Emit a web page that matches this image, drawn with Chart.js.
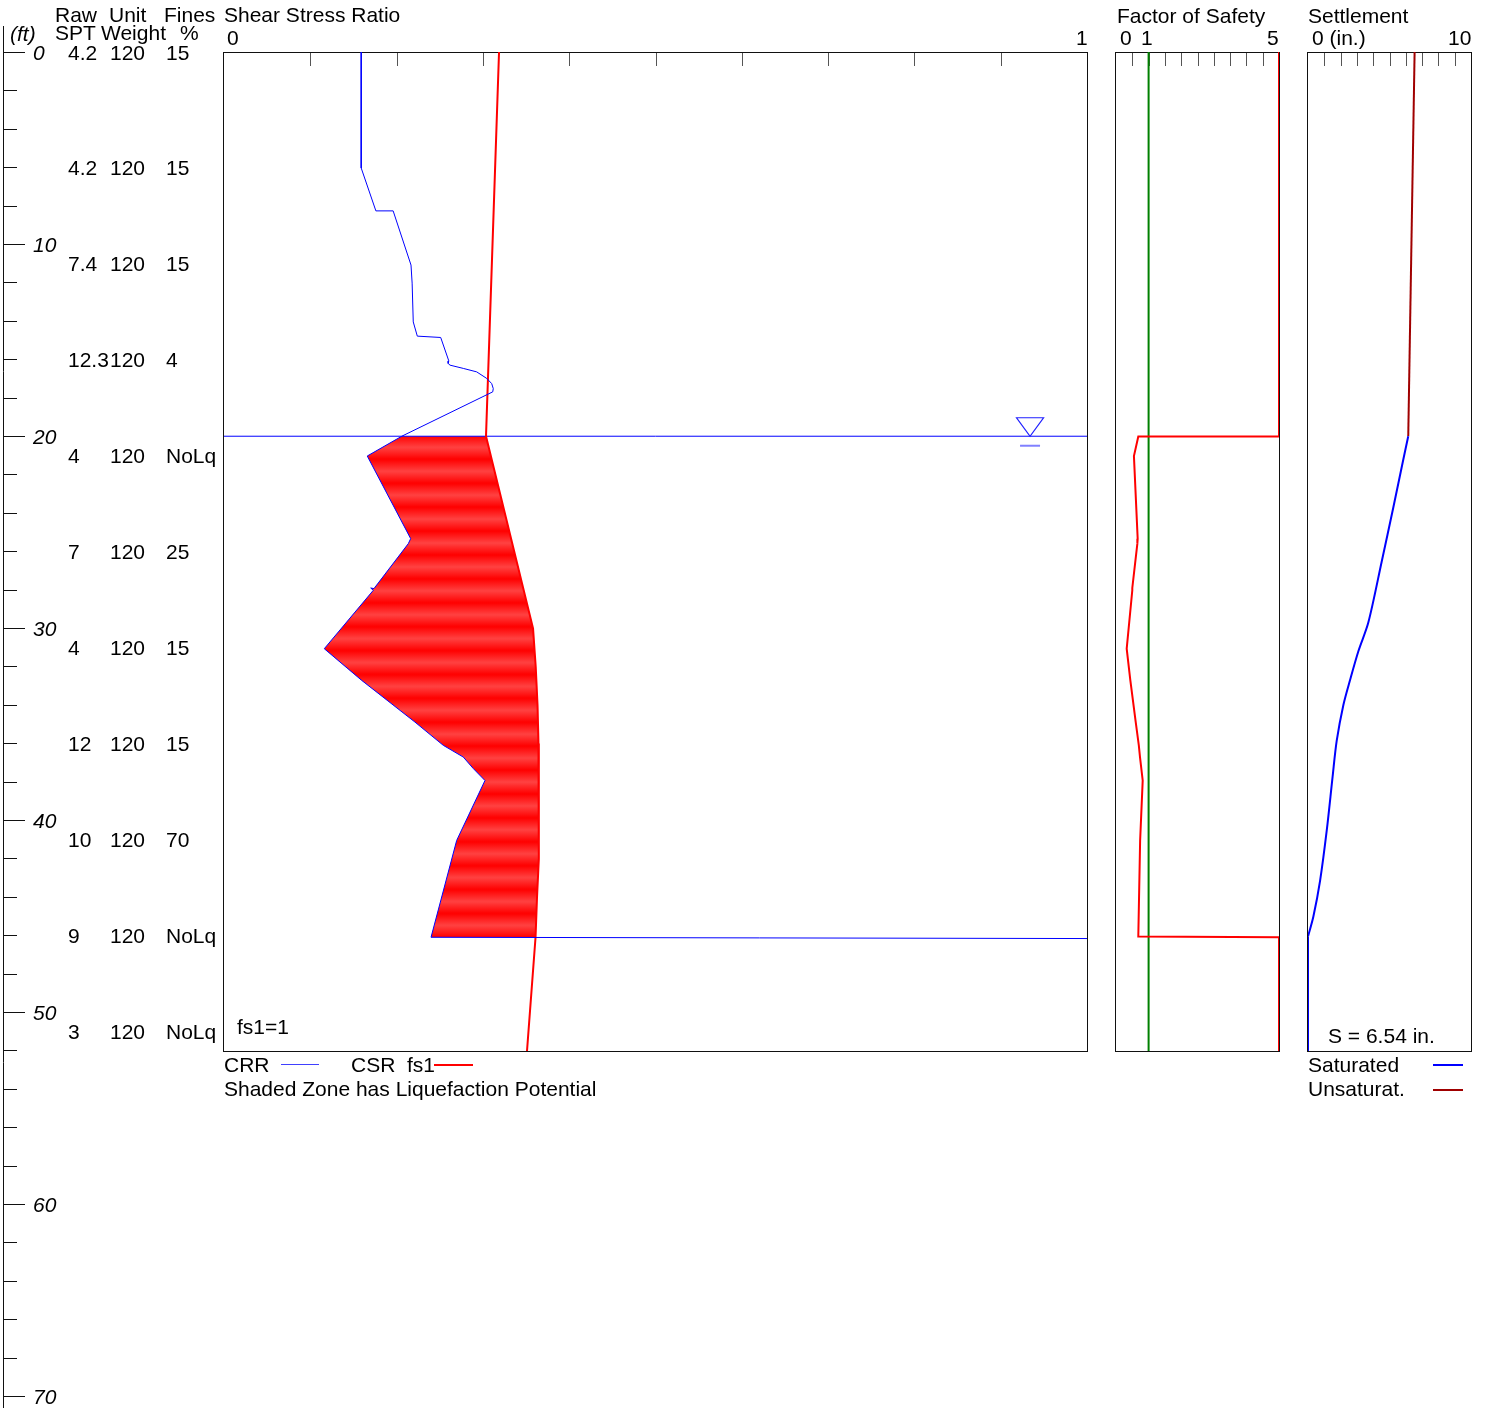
<!DOCTYPE html>
<html>
<head>
<meta charset="utf-8">
<title>Liquefaction Analysis</title>
<script src="https://cdn.jsdelivr.net/npm/chart.js@4.4.1/dist/chart.umd.min.js"></script>
<style>
  html, body { margin: 0; padding: 0; background: #fff; }
  body { width: 1488px; height: 1408px; position: relative; overflow: hidden;
         font-family: "Liberation Sans", Arial, sans-serif; font-size: 21px; color: #000; }
  canvas { position: absolute; }
  .t { position: absolute; white-space: pre; line-height: 21px; }
  .key { position: absolute; }
</style>
</head>
<body>
<canvas id="depth" width="1488" height="1408" style="left:0;top:0"></canvas>
<canvas id="main" width="884" height="1020" style="left:214px;top:42px"></canvas>
<canvas id="fs" width="184" height="1020" style="left:1106px;top:42px"></canvas>
<canvas id="settle" width="184" height="1020" style="left:1298px;top:42px"></canvas>
<script>
// ---- boring log (depth in ft) ----
const logDepths  = [0, 6, 11, 16, 21, 26, 31, 36, 41, 46, 51];
const rawSPT     = ['4.2', '4.2', '7.4', '12.3', '4', '7', '4', '12', '10', '9', '3'];
const unitWeight = ['120', '120', '120', '120', '120', '120', '120', '120', '120', '120', '120'];
const finesPct   = ['15', '15', '15', '4', 'NoLq', '25', '15', '15', '70', 'NoLq', 'NoLq'];

const depthAxisMax = 70;   // ft, full log
const profileMax = 52;     // ft, analysed profile
const depthTicks = [0, 2, 4, 6, 8, 10, 12, 14, 16, 18, 20, 22, 24, 26, 28, 30, 32, 34,
                    36, 38, 40, 42, 44, 46, 48, 50, 52, 54, 56, 58, 60, 62, 64, 66, 68, 70];
const ratioTicks  = [0, 0.1, 0.2, 0.3, 0.4, 0.5, 0.6, 0.7, 0.8, 0.9, 1];
const fsTicks     = [0, 0.5, 1, 1.5, 2, 2.5, 3, 3.5, 4, 4.5, 5];
const settleTicks = [0, 1, 2, 3, 4, 5, 6, 7, 8, 9, 10];

const waterTableDepth = 20;
const waterMarkRatio = 0.934;

// ---- cyclic resistance ratio (CRR) ----
const crrDepth = [0, 6.04, 8.27, 8.27, 11.09, 12.03, 14.05, 14.79, 14.86, 16.08, 16.21, 16.30,
                  16.47, 16.65, 16.99, 17.26, 17.52, 17.69, 20.0, 21.03, 25.33, 25.59, 27.93,
                  27.90, 28.02, 31.06, 32.71, 34.88, 36.09, 36.70, 37.30, 37.92, 41.04, 46.08,
                  46.5, 52];
const crrValue = [0.159, 0.159, 0.176, 0.196, 0.2167, 0.218, 0.2193, 0.224, 0.2511, 0.2605, 0.2597, 0.2619,
                  0.2773, 0.2928, 0.3044, 0.3102, 0.312, 0.3114, 0.206, 0.166, 0.2163, 0.2136, 0.1738,
                  0.170, 0.173, 0.1162, 0.1596, 0.2213, 0.2541, 0.2773, 0.2889, 0.3024, 0.2696, 0.2399,
                  5, 5];

// ---- cyclic stress ratio (CSR, fs1 = 1) ----
const csrDepth = [0, 20, 30, 32, 34, 36, 38, 40, 42, 44, 46.08, 52];
const csrValue = [0.3187, 0.3036, 0.3581, 0.3612, 0.3633, 0.3644, 0.365, 0.365, 0.3644, 0.3627, 0.361, 0.3511];

// liquefiable zone limits
const zoneTop = 20;
const zoneBottom = 46.08;

// ---- factor of safety ----
const fsDepth = [0, 20.02, 20.02, 21.03, 25.33, 25.59, 27.90, 28.02, 31.06, 32.71, 34.88, 36.09,
                 36.70, 37.92, 41.04, 46.04, 46.08, 52];
const fsValue = [5, 5, 0.684, 0.55, 0.665, 0.655, 0.50, 0.50, 0.328, 0.44, 0.605, 0.70,
                 0.736, 0.819, 0.74, 0.684, 5, 5];
const fsLimit = 1;

// ---- settlement (in.) ----
const unsatDepth  = [0, 20];
const unsatSettle = [6.54, 6.15];
const satDepth  = [20, 21.2, 23.72, 26.53, 29.7, 31.19, 32.69, 33.99, 35.86, 37.72, 40.52, 43.14, 45.0, 46.04];
const satSettle = [6.15, 5.85, 5.23, 4.52, 3.70, 3.09, 2.58, 2.17, 1.76, 1.51, 1.15, 0.74, 0.33, 0];
const belowDepth  = [46.04, 52];
const belowSettle = [0, 0];
const totalSettlement = '6.54';

// ------------------------------------------------------------------
const FONT = '"Liberation Sans", Arial, sans-serif';
const pts = (ds, vs) => ds.map((d, i) => ({x: vs[i], y: d}));
const fixedTicks = values => scale => { scale.ticks = values.map(v => ({value: v})); };

// outline of the plotting box with short inward ticks along the top edge
const framePlugin = {
  id: 'frame',
  beforeDatasetsDraw(chart) {
    const {ctx, chartArea: a, scales: {x}} = chart;
    ctx.save();
    ctx.strokeStyle = '#555';
    ctx.lineWidth = 1;
    x.ticks.forEach(t => {
      if (t.value <= x.min + 1e-9 || t.value >= x.max - 1e-9) return;
      const px = Math.round(x.getPixelForValue(t.value)) + 0.5;
      ctx.beginPath();
      ctx.moveTo(px, a.top);
      ctx.lineTo(px, a.top + 14);
      ctx.stroke();
    });
    ctx.strokeStyle = '#111';
    ctx.strokeRect(Math.round(a.left) - 0.5, Math.round(a.top) + 0.5,
                   Math.round(a.right - a.left) + 1, Math.round(a.bottom - a.top));
    ctx.restore();
  }
};

// water table symbol
const waterPlugin = {
  id: 'waterTable',
  afterDatasetsDraw(chart) {
    const {ctx, scales: {x, y}} = chart;
    const px = x.getPixelForValue(waterMarkRatio);
    const py = y.getPixelForValue(waterTableDepth);
    ctx.save();
    ctx.strokeStyle = '#2020ff';
    ctx.lineWidth = 1.2;
    ctx.beginPath();
    ctx.moveTo(px - 13.5, py - 18.5);
    ctx.lineTo(px + 13.5, py - 18.5);
    ctx.lineTo(px, py);
    ctx.closePath();
    ctx.stroke();
    ctx.strokeStyle = '#8080ff';
    ctx.lineWidth = 2;
    ctx.beginPath();
    ctx.moveTo(px - 10, py + 9.5);
    ctx.lineTo(px + 10, py + 9.5);
    ctx.stroke();
    ctx.restore();
  }
};

// depth axis and boring log columns
const depthPlugin = {
  id: 'depthAxis',
  afterDraw(chart) {
    const {ctx, scales: {y}} = chart;
    ctx.save();
    ctx.strokeStyle = '#111';
    ctx.lineWidth = 1;
    ctx.beginPath();
    ctx.moveTo(3.5, 26);
    ctx.lineTo(3.5, chart.height);
    ctx.stroke();
    ctx.fillStyle = '#000';
    ctx.textBaseline = 'alphabetic';
    y.ticks.forEach(t => {
      const py = Math.round(y.getPixelForValue(t.value)) + 0.5;
      const major = t.value % 10 === 0;
      ctx.beginPath();
      ctx.moveTo(3, py);
      ctx.lineTo(major ? 25 : 17, py);
      ctx.stroke();
      if (major) {
        ctx.font = 'italic 21px ' + FONT;
        ctx.fillText(String(t.value), 33, py + 7.5);
      }
    });
    ctx.font = '21px ' + FONT;
    logDepths.forEach((d, i) => {
      const py = y.getPixelForValue(d) + 7.5;
      ctx.fillText(rawSPT[i], 68, py);
      ctx.fillText(unitWeight[i], 110, py);
      ctx.fillText(finesPct[i], 166, py);
    });
    ctx.restore();
  }
};

function panelOptions(xmin, xmax, xTicks) {
  return {
    responsive: false,
    animation: false,
    devicePixelRatio: 1,
    events: [],
    layout: {padding: {left: 10, top: 10, right: 11, bottom: 11}},
    plugins: {legend: {display: false}, tooltip: {enabled: false}},
    elements: {point: {radius: 0}, line: {tension: 0}},
    scales: {
      x: {type: 'linear', min: xmin, max: xmax, display: false,
          ticks: {autoSkip: false}, afterBuildTicks: fixedTicks(xTicks)},
      y: {type: 'linear', min: 0, max: profileMax, reverse: true, display: false}
    }
  };
}

// depth axis chart (full page, underneath the panels)
new Chart(document.getElementById('depth'), {
  type: 'scatter',
  data: {datasets: []},
  options: {
    responsive: false, animation: false, devicePixelRatio: 1, events: [],
    layout: {padding: {left: 4, top: 52, right: 0, bottom: 12}},
    plugins: {legend: {display: false}, tooltip: {enabled: false}},
    scales: {
      x: {type: 'linear', min: 0, max: 1, display: false},
      y: {type: 'linear', min: 0, max: depthAxisMax, reverse: true, display: false,
          ticks: {autoSkip: false}, afterBuildTicks: fixedTicks(depthTicks)}
    }
  },
  plugins: [depthPlugin]
});

// striped red fill for the liquefiable zone
const mainCanvas = document.getElementById('main');
const tile = document.createElement('canvas');
tile.width = 4; tile.height = 24;
const tctx = tile.getContext('2d');
const grad = tctx.createLinearGradient(0, 0, 0, 24);
grad.addColorStop(0, '#ff4242');
grad.addColorStop(0.5, '#ff0000');
grad.addColorStop(1, '#ff4242');
tctx.fillStyle = grad;
tctx.fillRect(0, 0, 4, 24);
const stripes = mainCanvas.getContext('2d').createPattern(tile, 'repeat');
if (stripes.setTransform) stripes.setTransform(new DOMMatrix([1, 0, 0, 23.9 / 24, 0, -0.95]));

const crrPts = pts(crrDepth, crrValue);
const csrPts = pts(csrDepth, csrValue);
const zonePts = crrPts.filter(p => p.y >= zoneTop && p.y <= zoneBottom && p.x < 1)
  .concat(csrPts.filter(p => p.y >= zoneTop && p.y <= zoneBottom).reverse());

new Chart(mainCanvas, {
  type: 'scatter',
  data: {
    datasets: [
      {label: 'CRR', data: crrPts, showLine: true, borderColor: '#0000ff', borderWidth: 1, pointRadius: 0, order: 1},
      {label: 'CSR fs1', data: csrPts, showLine: true, borderColor: '#ff0000', borderWidth: 2, pointRadius: 0, order: 2},
      {label: 'Water table', data: [{x: 0, y: waterTableDepth}, {x: 1, y: waterTableDepth}], showLine: true,
       borderColor: '#0000ff', borderWidth: 1, pointRadius: 0, order: 3},
      {label: 'Liquefaction zone', data: zonePts, showLine: true, fill: 'shape', backgroundColor: stripes,
       borderColor: 'rgba(0,0,0,0)', borderWidth: 1, pointRadius: 0, order: 4}
    ]
  },
  options: panelOptions(0, 1, ratioTicks),
  plugins: [framePlugin, waterPlugin]
});

new Chart(document.getElementById('fs'), {
  type: 'scatter',
  data: {
    datasets: [
      {label: 'FS', data: pts(fsDepth, fsValue), showLine: true, borderColor: '#ff0000', borderWidth: 2, pointRadius: 0, order: 1},
      {label: 'fs1', data: [{x: fsLimit, y: 0}, {x: fsLimit, y: profileMax}], showLine: true,
       borderColor: '#008000', borderWidth: 2, pointRadius: 0, order: 2}
    ]
  },
  options: panelOptions(0, 5, fsTicks),
  plugins: [framePlugin]
});

new Chart(document.getElementById('settle'), {
  type: 'scatter',
  data: {
    datasets: [
      {label: 'Saturated', data: pts(satDepth, satSettle), showLine: true, borderColor: '#0000ff', borderWidth: 2,
       pointRadius: 0, tension: 0.3},
      {label: 'Saturated (below)', data: pts(belowDepth, belowSettle), showLine: true, borderColor: '#0000ff',
       borderWidth: 2, pointRadius: 0},
      {label: 'Unsaturat.', data: pts(unsatDepth, unsatSettle), showLine: true, borderColor: '#a00000', borderWidth: 2, pointRadius: 0}
    ]
  },
  options: panelOptions(0, 10, settleTicks),
  plugins: [framePlugin]
});

// ---- headings, scale end labels and keys ----
function label(text, x, base, style) {
  const el = document.createElement('div');
  el.className = 't';
  el.textContent = text;
  el.style.left = x + 'px';
  el.style.top = (base - 17) + 'px';
  if (style) Object.assign(el.style, style);
  document.body.appendChild(el);
}
function keyLine(x, y, w, h, color) {
  const el = document.createElement('div');
  el.className = 'key';
  Object.assign(el.style, {left: x + 'px', top: y + 'px', width: w + 'px', height: h + 'px', background: color});
  document.body.appendChild(el);
}

label('Raw', 55, 20.7);
label('Unit', 109, 20.7);
label('Fines', 164, 20.7);
label('Shear Stress Ratio', 224, 20.7);
label('(ft)', 10, 40, {fontStyle: 'italic'});
label('SPT', 55, 38.5);
label('Weight', 101, 38.5);
label('%', 180, 38.5);
label('0', 227, 43.5);
label('1', 1076, 43.5);

label('Factor of Safety', 1117, 21.5);
label('0', 1120, 43.5);
label('1', 1141, 43.5);
label('5', 1267, 43.5);

label('Settlement', 1308, 21.5);
label('0 (in.)', 1312, 43.5);
label('10', 1448, 43.5);

label('fs1=1', 237, 1033);
label('S = ' + totalSettlement + ' in.', 1328, 1042);

label('CRR', 224, 1071);
keyLine(281, 1064, 38, 1, '#4040ff');
label('CSR', 351, 1071);
label('fs1', 407, 1071);
keyLine(434, 1064, 39, 2, '#ff0000');
label('Shaded Zone has Liquefaction Potential', 224, 1095);

label('Saturated', 1308, 1071);
keyLine(1433, 1064, 30, 2, '#0000ff');
label('Unsaturat.', 1308, 1095);
keyLine(1433, 1089, 30, 2, '#a00000');
</script>
</body>
</html>
